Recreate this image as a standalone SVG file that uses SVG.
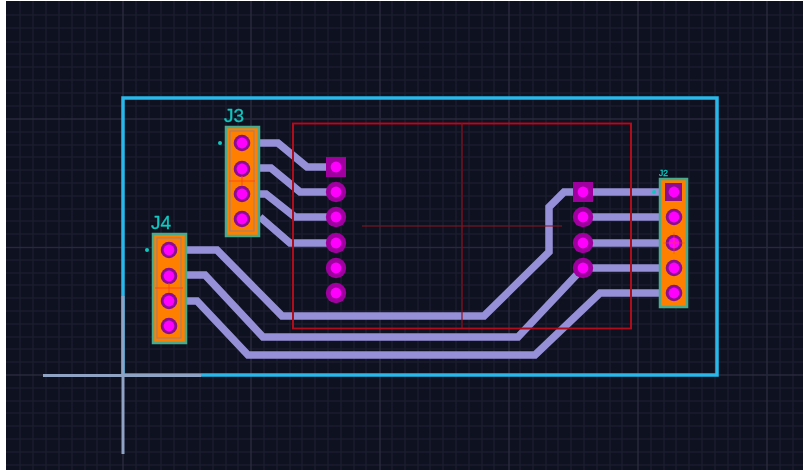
<svg xmlns="http://www.w3.org/2000/svg" width="803" height="470" viewBox="0 0 803 470">
<style>
.g{stroke:#1a1e2e;stroke-width:1.500;fill:none}
.gm{stroke:#262a3a;stroke-width:1.500;fill:none}
.t{stroke:#9690d8;stroke-width:7.500;fill:none;stroke-linejoin:miter}
.hdr{fill:#ff7f00;stroke:#48ab8c;stroke-width:2.500}
.in{fill:none;stroke:#a8806a;stroke-width:1.200}
.ring{fill:#a000a0}
.cring{fill:#8c0f90}
.hole{fill:#ff00ff}
.lbl{font-family:"Liberation Sans",Arial,sans-serif;fill:#12c8c0;stroke:#12c8c0;stroke-width:0.300}
.dot{fill:#10c8c0}
.x{stroke:#ff4a10;stroke-width:1;fill:none}
</style>
<defs>
<filter id="b" x="0" y="0" width="803" height="470" filterUnits="userSpaceOnUse"><feGaussianBlur stdDeviation="0.7"/></filter>
<g id="pr"><circle r="10.200" class="ring"/><circle r="5.400" class="hole"/></g>
<g id="pc"><circle r="8.300" class="cring"/><circle r="5.400" class="hole"/></g>
</defs>
<rect width="803" height="470" fill="#ffffff"/>
<rect x="6" y="1" width="797" height="469" fill="#0e1120"/>
<g filter="url(#b)">
<path id="grid" class="g" d="M20 1V470M33 1V470M46 1V470M59 1V470M72 1V470M85 1V470M97 1V470M110 1V470M136 1V470M149 1V470M161 1V470M174 1V470M187 1V470M200 1V470M213 1V470M226 1V470M238 1V470M264 1V470M277 1V470M290 1V470M302 1V470M315 1V470M328 1V470M341 1V470M354 1V470M366 1V470M392 1V470M405 1V470M418 1V470M430 1V470M443 1V470M456 1V470M469 1V470M482 1V470M494 1V470M520 1V470M533 1V470M546 1V470M558 1V470M571 1V470M584 1V470M597 1V470M610 1V470M622 1V470M651 1V470M664 1V470M676 1V470M689 1V470M702 1V470M715 1V470M728 1V470M740 1V470M753 1V470M780 1V470M793 1V470M6 15H803M6 28H803M6 42H803M6 54H803M6 67H803M6 80H803M6 93H803M6 106H803M6 132H803M6 145H803M6 157H803M6 170H803M6 183H803M6 196H803M6 209H803M6 221H803M6 234H803M6 260H803M6 273H803M6 285H803M6 298H803M6 311H803M6 324H803M6 337H803M6 349H803M6 362H803M6 388H803M6 401H803M6 413H803M6 426H803M6 439H803M6 452H803M6 465H803"/>
<path id="gridm" class="gm" d="M123 1V470M251 1V470M380 1V470M509 1V470M638 1V470M767 1V470M6 119H803M6 247.500H803M6 375H803"/>
<rect id="board" x="123" y="98" width="594" height="277" fill="none" stroke="#2ab8ea" stroke-width="3.500"/>
<g id="connectors">
<path class="t" d="M260 143H278L307 167H336"/>
<path class="t" d="M260 168H271L300 192H336"/>
<path class="t" d="M260 194H266L295 217H336"/>
<path class="t" d="M260 217L290 243H336"/>
<path class="t" d="M187 250H217L282 316H484L549 252V207L564 192H674"/>
<path class="t" d="M187 275H205L263 337H518L583 268"/>
<path class="t" d="M187 301H197L248 355H535L600 293H674"/>
<path class="t" d="M583 217H674M583 243H674M583 268H674"/>
</g>
<g id="courtyard" fill="none">
<rect x="293" y="123.500" width="338" height="205" stroke="#b00c1c" stroke-width="2"/>
<path d="M362 226H562M462 123V328" stroke="#8e0f1e" stroke-width="1.200"/>
</g>
<g id="J3">
<rect x="226" y="127" width="33" height="109" class="hdr"/>
<rect x="230" y="131" width="24" height="100" class="in"/>
<use href="#pc" x="242" y="143"/><use href="#pc" x="242" y="169"/><use href="#pc" x="242" y="194"/><use href="#pc" x="242" y="219"/>
<path class="x" d="M229 181H255M242 176V186"/>
<circle cx="220" cy="143" r="2" class="dot"/>
<text x="224" y="122" font-size="19" class="lbl">J3</text>
</g>
<g id="J4">
<rect x="153" y="234" width="33" height="109" class="hdr"/>
<rect x="157" y="238" width="24" height="100" class="in"/>
<use href="#pc" x="169" y="250"/><use href="#pc" x="169" y="276"/><use href="#pc" x="169" y="301"/><use href="#pc" x="169" y="326"/>
<path class="x" d="M155 288H183M169 283V293"/>
<circle cx="147" cy="250" r="2" class="dot"/>
<text x="151" y="229" font-size="19" class="lbl">J4</text>
</g>
<g id="J2">
<rect x="660" y="179" width="27" height="128" class="hdr"/>
<rect x="665" y="183" width="17" height="18" fill="#8c0f90"/>
<circle cx="674" cy="192" r="5.400" class="hole"/>
<use href="#pc" x="674" y="217"/><use href="#pc" x="674" y="243"/><use href="#pc" x="674" y="268"/><use href="#pc" x="674" y="293"/>
<path class="x" d="M663 243H685M674 232V254" stroke-opacity="0.500"/>
<circle cx="654" cy="192" r="2" class="dot"/>
<text x="659" y="175.500" font-size="8.500" class="lbl">J2</text>
</g>
<g id="U1">
<rect x="326" y="157" width="20" height="20" class="ring"/><circle cx="336" cy="167" r="5.400" class="hole"/>
<use href="#pr" x="336" y="192"/><use href="#pr" x="336" y="217"/><use href="#pr" x="336" y="243"/><use href="#pr" x="336" y="268"/><use href="#pr" x="336" y="293"/>
</g>
<g id="U2">
<rect x="573" y="182" width="20" height="20" class="ring"/><circle cx="583" cy="192" r="5.400" class="hole"/>
<use href="#pr" x="583" y="217"/><use href="#pr" x="583" y="243"/><use href="#pr" x="583" y="268"/>
</g>
<path id="origin" d="M43 375.500H201M123 296V454" stroke="#8fa3c4" stroke-width="3" fill="none"/>
</g>
</svg>
